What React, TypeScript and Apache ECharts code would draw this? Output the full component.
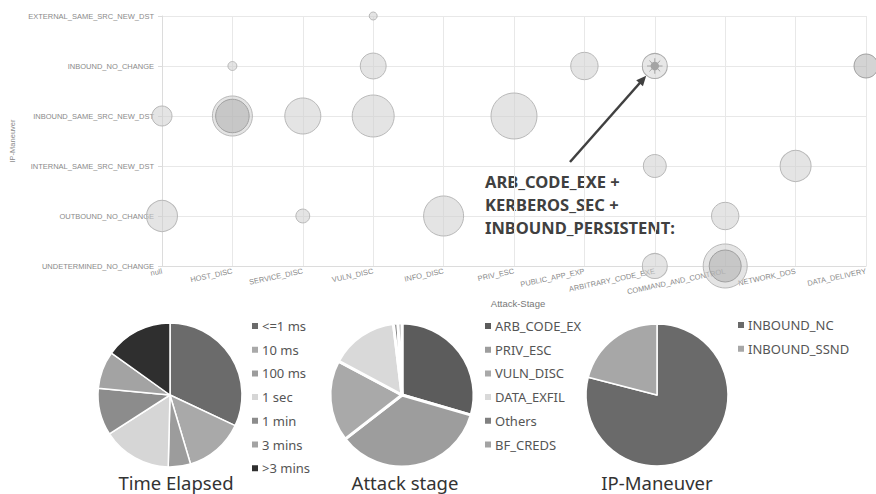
import React, { useEffect, useRef } from "react";
import * as echarts from "echarts";

const attackStages = [
  "null", "HOST_DISC", "SERVICE_DISC", "VULN_DISC", "INFO_DISC", "PRIV_ESC",
  "PUBLIC_APP_EXP", "ARBITRARY_CODE_EXE", "COMMAND_AND_CONTROL", "NETWORK_DOS", "DATA_DELIVERY",
];
const maneuvers = [
  "UNDETERMINED_NO_CHANGE", "OUTBOUND_NO_CHANGE", "INTERNAL_SAME_SRC_NEW_DST",
  "INBOUND_SAME_SRC_NEW_DST", "INBOUND_NO_CHANGE", "EXTERNAL_SAME_SRC_NEW_DST",
];

// [attack stage, ip maneuver, weight]
const lightBubbles = [
  ["VULN_DISC", "EXTERNAL_SAME_SRC_NEW_DST", 4],
  ["HOST_DISC", "INBOUND_NO_CHANGE", 5],
  ["VULN_DISC", "INBOUND_NO_CHANGE", 42],
  ["PUBLIC_APP_EXP", "INBOUND_NO_CHANGE", 47],
  ["null", "INBOUND_SAME_SRC_NEW_DST", 25],
  ["HOST_DISC", "INBOUND_SAME_SRC_NEW_DST", 100],
  ["SERVICE_DISC", "INBOUND_SAME_SRC_NEW_DST", 81],
  ["VULN_DISC", "INBOUND_SAME_SRC_NEW_DST", 110],
  ["PRIV_ESC", "INBOUND_SAME_SRC_NEW_DST", 132],
  ["ARBITRARY_CODE_EXE", "INTERNAL_SAME_SRC_NEW_DST", 33],
  ["NETWORK_DOS", "INTERNAL_SAME_SRC_NEW_DST", 60],
  ["null", "OUTBOUND_NO_CHANGE", 60],
  ["SERVICE_DISC", "OUTBOUND_NO_CHANGE", 12],
  ["INFO_DISC", "OUTBOUND_NO_CHANGE", 100],
  ["COMMAND_AND_CONTROL", "OUTBOUND_NO_CHANGE", 47],
  ["ARBITRARY_CODE_EXE", "UNDETERMINED_NO_CHANGE", 39],
  ["COMMAND_AND_CONTROL", "UNDETERMINED_NO_CHANGE", 121],
];
const darkBubbles = [
  ["HOST_DISC", "INBOUND_SAME_SRC_NEW_DST", 70],
  ["DATA_DELIVERY", "INBOUND_NO_CHANGE", 36],
  ["COMMAND_AND_CONTROL", "UNDETERMINED_NO_CHANGE", 64],
];
const highlightBubble = [["ARBITRARY_CODE_EXE", "INBOUND_NO_CHANGE", 39]];
const highlightTarget = ["ARBITRARY_CODE_EXE", "INBOUND_NO_CHANGE"];

const annotationLines = ["ARB_CODE_EXE +", "KERBEROS_SEC +", "INBOUND_PERSISTENT:"];

const timeLabels = ["<=1 ms", "10 ms", "100 ms", "1 sec", "1 min", "3 mins", ">3 mins"];
const timeValues = [32, 13.4, 5, 15.5, 10.6, 8.4, 15.1];
const timeColors = ["#6b6b6b", "#a9a9a9", "#9c9c9c", "#d6d6d6", "#8c8c8c", "#a3a3a3", "#2f2f2f"];

const stageLabels = ["ARB_CODE_EX", "PRIV_ESC", "VULN_DISC", "DATA_EXFIL", "Others", "BF_CREDS"];
const stageValues = [29.5, 35, 18.3, 15.3, 1, 0.9];
const stageColors = ["#5c5c5c", "#9d9d9d", "#a9a9a9", "#d9d9d9", "#808080", "#a3a3a3"];

const ipLabels = ["INBOUND_NC", "INBOUND_SSND"];
const ipValues = [79, 21];
const ipColors = ["#6a6a6a", "#a7a7a7"];

const pieTitles = ["Time Elapsed", "Attack stage", "IP-Maneuver"];

const bubbleSize = (v: any) => Math.sqrt(v[2]) * 4;
const PIE_FONT = "Noto Sans, sans-serif";

export default function App() {
  const ref = useRef<HTMLDivElement>(null);
  useEffect(() => {
    if (!ref.current) return;
    const chart = echarts.init(ref.current, null, { renderer: "svg" });
    const axisLabelStyle = { color: "#8a8a8a", fontSize: 7.5, fontFamily: "Liberation Sans, Arial, sans-serif" };
    const pie = (name: string, labels: string[], values: number[], colors: string[], center: number[], r: number, bw: number) => ({
      type: "pie",
      name,
      center,
      radius: r,
      startAngle: 90,
      clockwise: true,
      label: { show: false },
      labelLine: { show: false },
      emphasis: { disabled: true },
      itemStyle: { borderColor: "#fff", borderWidth: bw },
      data: labels.map((l, i) => ({ name: l, value: values[i], itemStyle: { color: colors[i] } })),
    });
    const legend = (labels: string[], left: number, top: number) => ({
      orient: "vertical",
      left,
      top,
      icon: "rect",
      itemWidth: 8,
      itemHeight: 8,
      itemGap: 9.7,
      selectedMode: false,
      data: labels,
      textStyle: { color: "#555", fontSize: 13, fontFamily: PIE_FONT, lineHeight: 14, padding: [0, 0, 0, -2] },
    });
    const option: any = {
      animation: false,
      grid: { left: 158, right: 10, top: 16, bottom: 228, containLabel: false },
      xAxis: {
        type: "category",
        data: attackStages,
        boundaryGap: false,
        name: "Attack-Stage",
        nameLocation: "middle",
        nameGap: 32,
        nameMoveOverlap: false,
        nameTextStyle: { color: "#777", fontSize: 9.5, fontFamily: "Liberation Sans, Arial, sans-serif", padding: [0, 0, 0, 8] },
        axisLine: { lineStyle: { color: "#dcdcdc" } },
        axisTick: { show: false },
        axisLabel: { ...axisLabelStyle, rotate: 12, margin: 5, interval: 0 },
        splitLine: { show: true, lineStyle: { color: "#e8e8e8" } },
      },
      yAxis: {
        type: "category",
        data: maneuvers,
        boundaryGap: false,
        name: "IP-Maneuver",
        nameLocation: "middle",
        nameGap: 146,
        nameTextStyle: { color: "#888", fontSize: 7.5, fontFamily: "Liberation Sans, Arial, sans-serif" },
        axisLine: { lineStyle: { color: "#dcdcdc" } },
        axisTick: { show: true, length: 4, lineStyle: { color: "#dcdcdc" } },
        axisLabel: { ...axisLabelStyle, margin: 8, interval: 0 },
        splitLine: { show: true, lineStyle: { color: "#e8e8e8" } },
      },
      legend: [
        legend(timeLabels, 245, 314),
        legend(stageLabels, 478, 314),
        legend(ipLabels, 731, 313),
      ],
      series: [
        {
          type: "scatter",
          data: lightBubbles,
          symbolSize: bubbleSize,
          itemStyle: { color: "rgba(205,205,205,0.55)", borderColor: "#b8b8b8", borderWidth: 1, opacity: 1 },
          emphasis: { disabled: true },
          z: 2,
        },
        {
          type: "scatter",
          data: darkBubbles,
          symbolSize: bubbleSize,
          itemStyle: { color: "rgba(170,170,170,0.5)", borderColor: "#a0a0a0", borderWidth: 1, opacity: 1 },
          emphasis: { disabled: true },
          z: 3,
        },
        {
          type: "scatter",
          data: highlightBubble,
          symbolSize: bubbleSize,
          itemStyle: { color: "rgba(215,215,215,0.6)", borderColor: "#aaaaaa", borderWidth: 1, opacity: 1 },
          emphasis: { disabled: true },
          z: 3,
        },
        {
          type: "scatter",
          data: highlightBubble,
          symbol: "path://M0,-10L0,10M-10,0L10,0M-7,-7L7,7M-7,7L7,-7",
          symbolSize: (v: any) => bubbleSize(v) * 0.62,
          itemStyle: { color: "none", borderColor: "#9c9c9c", borderWidth: 0.9, opacity: 1 },
          emphasis: { disabled: true },
          z: 4,
        },
        {
          type: "scatter",
          data: highlightBubble,
          symbolSize: (v: any) => bubbleSize(v) * 0.34,
          itemStyle: { color: "#a4a4a4", opacity: 1 },
          emphasis: { disabled: true },
          z: 5,
        },
        pie(pieTitles[0], timeLabels, timeValues, timeColors, [170, 395], 72, 1.5),
        pie(pieTitles[1], stageLabels, stageValues, stageColors, [402, 395], 72, 3),
        pie(pieTitles[2], ipLabels, ipValues, ipColors, [657, 395], 71, 1.5),
      ],
      graphic: [
        ...pieTitles.map((t, i) => ({
          type: "text",
          id: "title" + i,
          x: [176, 405, 657][i],
          y: 482,
          style: {
            text: t,
            fill: "#333",
            font: `18.5px ${PIE_FONT}`,
            textAlign: "center",
            textVerticalAlign: "middle",
          },
        })),
        {
          type: "text",
          id: "annot",
          x: 485,
          y: 170,
          style: {
            text: annotationLines.join("\n"),
            fill: "#404040",
            font: `bold 16.5px ${PIE_FONT}`,
            lineHeight: 23,
            textAlign: "left",
            textVerticalAlign: "top",
          },
        },
      ],
    };
    chart.setOption(option);

    const target = chart.convertToPixel({ gridIndex: 0 } as any, [
      attackStages.indexOf(highlightTarget[0]),
      maneuvers.indexOf(highlightTarget[1]),
    ]) as number[];
    if (target) {
      const sx = 570, sy = 162;
      const dx = target[0] - sx, dy = target[1] - sy;
      const len = Math.sqrt(dx * dx + dy * dy);
      const ux = dx / len, uy = dy / len;
      const tipX = target[0] - ux * 13, tipY = target[1] - uy * 13;
      const headLen = 10, headW = 4.5;
      const bx = tipX - ux * headLen, by = tipY - uy * headLen;
      chart.setOption({
        graphic: [
          {
            type: "line",
            id: "arrowLine",
            shape: { x1: sx, y1: sy, x2: bx + ux * 2, y2: by + uy * 2 },
            style: { stroke: "#404040", lineWidth: 2.5 },
            z: 10,
          },
          {
            type: "polygon",
            id: "arrowHead",
            shape: {
              points: [
                [tipX, tipY],
                [bx - uy * headW, by + ux * headW],
                [bx + uy * headW, by - ux * headW],
              ],
            },
            style: { fill: "#404040" },
            z: 10,
          },
        ],
      });
    }
    return () => chart.dispose();
  }, []);
  return (
    <div
      ref={ref}
      style={{ position: "fixed", left: 0, top: 0, width: 876, height: 494, background: "#fff" }}
    />
  );
}
